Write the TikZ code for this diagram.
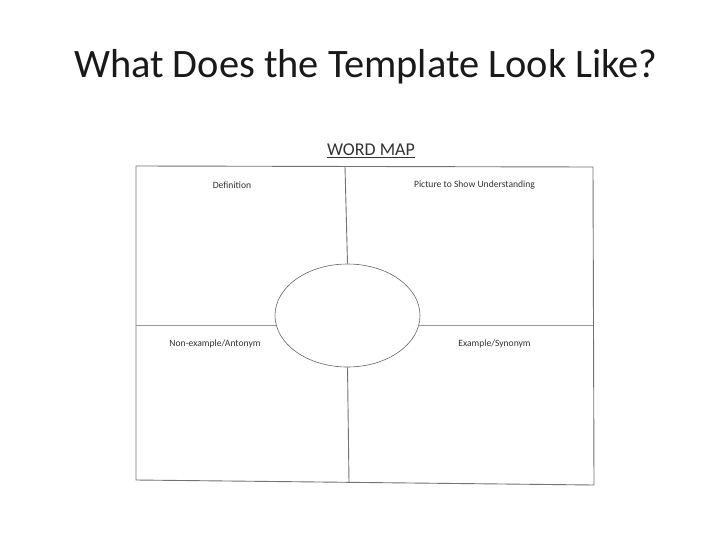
\documentclass[tikz,border=0pt]{standalone}
\usepackage{fontspec}
\setmainfont{Carlito}
\usetikzlibrary{shapes.geometric}
\begin{document}
\begin{tikzpicture}[x=1pt,y=-1pt,
  frame/.style={draw=black!55,line width=0.9pt},
  lbl/.style={font=\fontsize{9.6}{11}\selectfont,text=black!80,inner sep=0pt}]
\useasboundingbox[fill=white] (0,0) rectangle (728,546);
\node[anchor=west,inner sep=0pt,font=\fontsize{40.4}{44}\selectfont,text=black!90] (title) at (74,67) {What Does the Template Look Like?};
\node[inner sep=0pt,font=\fontsize{18}{20}\selectfont,text=black!80] (wm) at (371,151) {\underline{WORD MAP}};
\coordinate (tl) at (136,166);
\coordinate (tr) at (593,167);
\coordinate (br) at (594,485);
\coordinate (bl) at (136,480);
\draw[frame] (tl) -- (tr) -- (br) -- (bl) -- cycle;
\node[ellipse,draw=black!60,line width=0.6pt,minimum width=145pt,minimum height=103pt,inner sep=0pt] (e) at (347.5,315.5) {};
\coordinate (vt) at (345,166.5);
\coordinate (vb) at (349,482.5);
\coordinate (hl) at (136,325);
\coordinate (hr) at (593,325);
\draw[frame] (vt) -- (e.north);
\draw[frame] (e.south) -- (vb);
\draw[frame,draw=black!40] (hl) -- ([xshift=1pt]e.west |- hl);
\draw[frame,draw=black!40] ([xshift=-1pt]e.east |- hr) -- (hr);
\node[lbl] (d) at (232,185) {Definition};
\node[lbl] (p) at (474.5,185) {Picture to Show Understanding};
\node[lbl] (n) at (215,344) {Non-example/Antonym};
\node[lbl] (s) at (494.5,344) {Example/Synonym};
\end{tikzpicture}
\end{document}
